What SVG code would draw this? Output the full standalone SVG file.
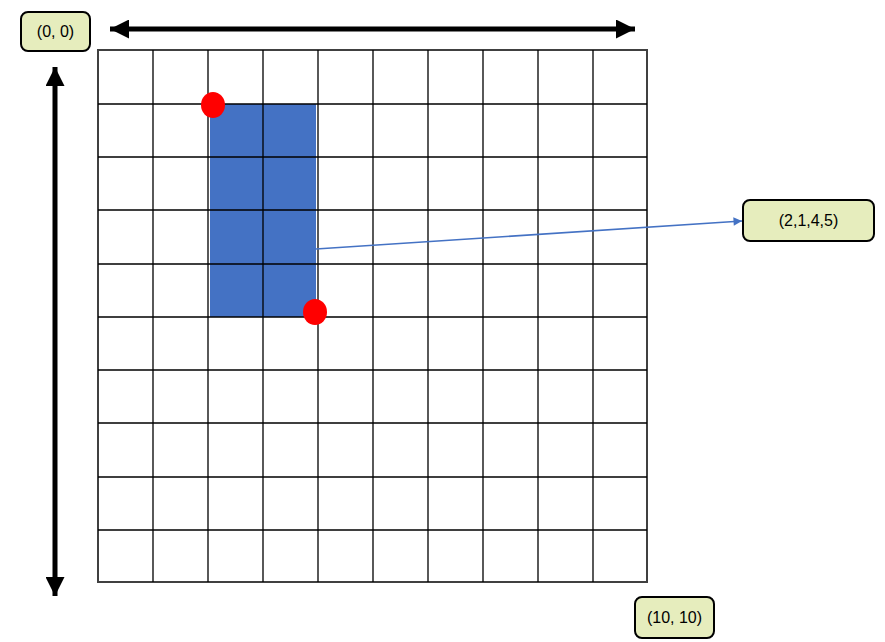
<svg xmlns="http://www.w3.org/2000/svg" width="885" height="642" viewBox="0 0 885 642">
<defs>
<style>
.lbl rect{fill:#e6edbd;stroke:#000;stroke-width:2}
.lbl text{font-family:"Liberation Sans",Arial,sans-serif;font-size:16px;fill:#000;text-anchor:middle;dominant-baseline:central}
.g{stroke:#000;stroke-width:1.3;fill:none}
</style>
<marker id="bh" viewBox="0 0 10 10" refX="10" refY="5" markerWidth="4" markerHeight="3.8" orient="auto-start-reverse" markerUnits="strokeWidth"><path d="M0,0 L10,5 L0,10 Z" fill="#000"/></marker>
<marker id="ah" viewBox="0 0 10 10" refX="10" refY="5" markerWidth="6" markerHeight="5" orient="auto" markerUnits="strokeWidth"><path d="M0,0 L10,5 L0,10 Z" fill="#4472c4"/></marker>
</defs>
<rect width="885" height="642" fill="#fff"/>
<g id="grid">
<rect x="98" y="50" width="549" height="532" fill="#fff" stroke="#404040" stroke-width="2"/>
</g>
<g id="selection">
<rect x="210" y="104" width="106" height="213" fill="#4472c4"/>
</g>
<g id="gridlines" class="g">
<path d="M153,50V582M208,50V582M263,50V582M318,50V582M373,50V582M428,50V582M483,50V582M538,50V582M593,50V582"/>
<path d="M98,104H647M98,157H647M98,210H647M98,264H647M98,317H647M98,370H647M98,423H647M98,477H647M98,530H647"/>
</g>
<g id="connectors">
<line x1="110" y1="29" x2="635" y2="29" stroke="#000" stroke-width="5" marker-start="url(#bh)" marker-end="url(#bh)"/>
<line x1="55" y1="67" x2="55" y2="596" stroke="#000" stroke-width="5" marker-start="url(#bh)" marker-end="url(#bh)"/>
<line x1="316" y1="249" x2="742" y2="221" stroke="#4472c4" stroke-width="1.7" marker-end="url(#ah)"/>
</g>
<g id="corner-top-left"><ellipse cx="213" cy="105" rx="12" ry="13" fill="#f00"/></g>
<g id="corner-bottom-right"><ellipse cx="315" cy="312" rx="12" ry="13" fill="#f00"/></g>
<g id="label-origin" class="lbl"><rect x="21" y="12" width="69" height="39" rx="7"/><text x="55.5" y="31.5">(0, 0)</text></g>
<g id="label-box" class="lbl"><rect x="743" y="200" width="131" height="41" rx="7"/><text x="808.5" y="220.5">(2,1,4,5)</text></g>
<g id="label-end" class="lbl"><rect x="635" y="597" width="79" height="41" rx="7"/><text x="674.5" y="617.5">(10, 10)</text></g>
</svg>
